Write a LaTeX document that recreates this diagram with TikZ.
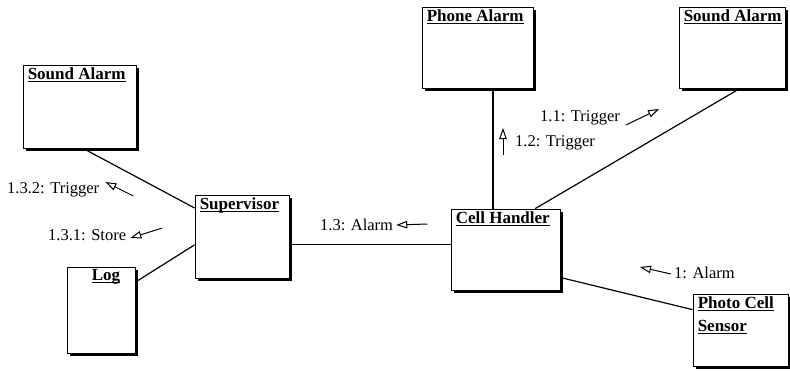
\documentclass[tikz,border=0pt]{standalone}
\usepackage{fontspec}
\setmainfont{Liberation Serif}
\usetikzlibrary{arrows.meta, calc, shadows}

% underlined object name
\newcommand{\objname}[1]{\setbox0\hbox{#1}\rlap{\rule[-2.5pt]{\wd0}{1.1pt}}\box0}

\begin{document}
\begin{tikzpicture}[
  x=1pt, y=-1pt,
  obj/.style={
    rectangle, draw=black, line width=0.9pt, fill=white, inner sep=0pt,
    drop shadow={shadow xshift=2.5pt, shadow yshift=-2.5pt, fill=black, opacity=1}
  },
  objtitle/.style={
    anchor=north west, inner sep=0pt, xshift=5pt, yshift=-3pt,
    font=\fontsize{17}{23}\selectfont\bfseries, align=left
  },
  link/.style={line width=1.2pt},
  msg/.style={font=\fontsize{16.5}{18}\selectfont, inner sep=1pt, anchor=west},
  marr/.style={-{Triangle[open, length=11pt, width=7.5pt]}, line width=1pt},
]
  \useasboundingbox (0,0) rectangle (790,370);

  % Objects
  \node[obj, minimum width=113, minimum height=83,
    label={[objtitle]north west:\objname{Sound Alarm}}] (sndL) at (79.5,106.5) {};
  \node[obj, minimum width=68, minimum height=86,
    label={[objtitle, xshift=20pt]north west:\objname{Log}}] (log) at (101,310) {};
  \node[obj, minimum width=94, minimum height=83,
    label={[objtitle]north west:\objname{Supervisor}}] (sup) at (242,236.5) {};
  \node[obj, minimum width=109, minimum height=81,
    label={[objtitle]north west:\objname{Cell Handler}}] (cell) at (505.5,249.5) {};
  \node[obj, minimum width=111, minimum height=81,
    label={[objtitle]north west:\objname{Phone Alarm}}] (phone) at (477.5,47.5) {};
  \node[obj, minimum width=106, minimum height=81,
    label={[objtitle]north west:\objname{Sound Alarm}}] (sndR) at (732,47.5) {};
  \node[obj, minimum width=95, minimum height=72,
    label={[objtitle]north west:{\objname{Photo Cell}\\\objname{Sensor}}}] (photo) at (740.5,330) {};

  % Links
  \draw[link] (sndL.-85) -- (sup.149);
  \draw[link] (log.39.5) -- (sup.190);
  \draw[link] (sup.-10) -- (sup.-10 -| cell.west);
  \draw[link] ($(cell.north)+(-12.5,0)$) coordinate (pc) -- (pc |- phone.south);
  \draw[link] (cell.54) -- (sndR.-79);
  \draw[link] (cell.-27.6) -- (photo.157);

  % Messages
  \node[msg] (m132) at (6,190) {1.3.2: Trigger};
  \draw[marr] ($(m132.east)+(33,6)$) -- ($(m132.east)+(5,-8)$);

  \node[msg] (m131) at (47,235) {1.3.1: Store};
  \draw[marr] ($(m131.east)+(35,-7)$) -- ($(m131.east)+(3,3)$);

  \node[msg] (m13) at (319,225) {1.3: Alarm};
  \draw[marr] ($(m13.east)+(33,-1)$) -- ($(m13.east)+(2,0)$);

  \node[msg] (m12) at (514,143) {1.2: Trigger};
  \draw[marr] ($(m12.west)+(-11,12)$) -- ($(m12.west)+(-11,-15)$);

  \node[msg] (m11) at (539,118) {1.1: Trigger};
  \draw[marr] ($(m11.east)+(5,7)$) -- ($(m11.east)+(38,-9)$);

  \node[msg] (m1) at (673,273) {1: Alarm};
  \draw[marr] ($(m1.west)+(-2,1)$) -- ($(m1.west)+(-33,-6)$);
\end{tikzpicture}
\end{document}
